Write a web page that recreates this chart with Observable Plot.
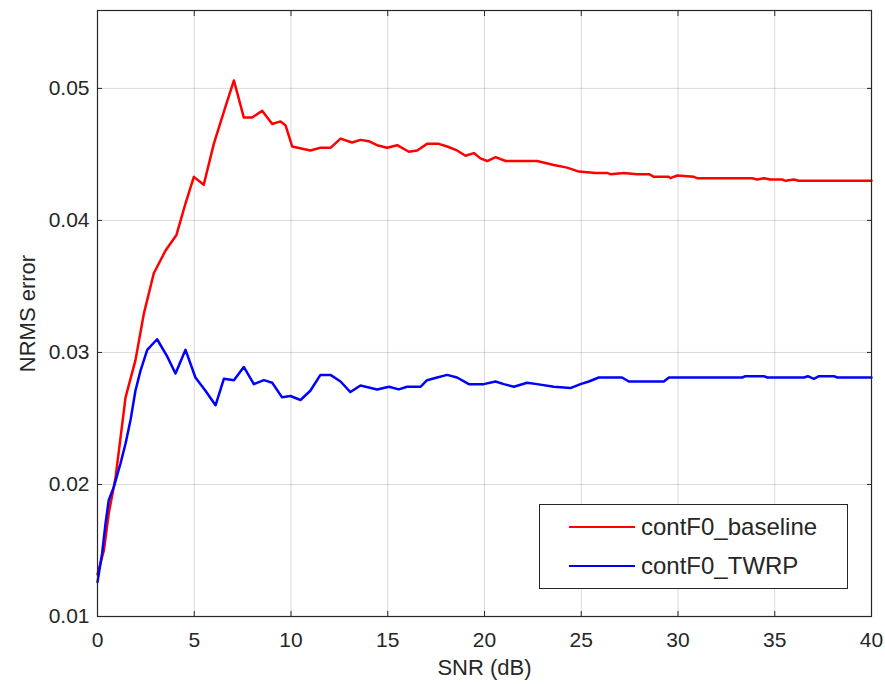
<!DOCTYPE html>
<html>
<head>
<meta charset="utf-8">
<script src="https://cdn.jsdelivr.net/npm/d3@7"></script>
<script src="https://cdn.jsdelivr.net/npm/@observablehq/plot@0.6"></script>
<style>
  html, body { margin: 0; padding: 0; background: #fff; }
  #wrap { position: relative; width: 885px; height: 684px; }
  #legend { position: absolute; left: 539px; top: 504px; width: 307px; height: 83px;
    border: 1px solid #262626; background: #fff; font-family: "Liberation Sans", Arial, sans-serif;
    font-size: 24px; color: #262626; }
  .row { position: absolute; left: 29px; display: flex; align-items: center; height: 28px; }
  .sw { width: 66px; height: 0; border-top: 2.5px solid; margin-right: 6px; }
</style>
</head>
<body>
<div id="wrap"></div>
<script>
const seriesNames = ["contF0_baseline", "contF0_TWRP"];
const seriesColors = ["#ff0000", "#0000ff"];

const baselineSNR = [0,0.33,0.58,0.93,1.45,1.96,2.39,2.91,3.51,4.08,4.55,4.98,5.49,6.01,6.61,7.05,7.56,7.99,8.51,9.03,9.46,9.72,10.06,11.0,11.52,12.04,12.56,13.16,13.59,14.02,14.45,14.97,15.49,16.09,16.52,17.03,17.64,18.07,18.58,19.02,19.45,19.79,20.14,20.57,21.09,22.72,23.58,24.27,24.88,25.74,26.34,26.51,27.2,27.89,28.5,28.76,29.53,29.61,29.96,30.82,30.99,33.83,34.09,34.44,34.78,35.38,35.56,35.98,36.24,40];
const baselineErr = [0.0132,0.0150,0.0178,0.0205,0.0266,0.0294,0.0329,0.0360,0.0377,0.0389,0.0413,0.0433,0.0427,0.0458,0.0486,0.0506,0.0478,0.0478,0.0483,0.0473,0.0475,0.0472,0.0456,0.0453,0.0455,0.0455,0.0462,0.0459,0.0461,0.0460,0.0457,0.0455,0.0457,0.0452,0.0453,0.0458,0.0458,0.0456,0.0453,0.0449,0.0451,0.0447,0.0445,0.0448,0.0445,0.0445,0.0442,0.0440,0.0437,0.0436,0.0436,0.0435,0.0436,0.0435,0.0435,0.0433,0.0433,0.0432,0.0434,0.0433,0.0432,0.0432,0.0431,0.0432,0.0431,0.0431,0.0430,0.0431,0.0430,0.0430];

const twrpSNR = [0,0.24,0.41,0.58,0.84,1.19,1.45,1.71,1.96,2.22,2.57,3.08,3.6,4.03,4.55,5.06,5.58,6.1,6.53,7.05,7.56,8.08,8.6,9.03,9.54,9.97,10.49,11.0,11.52,12.04,12.56,13.07,13.59,14.45,15.06,15.57,16.0,16.69,17.03,17.55,18.07,18.58,19.19,19.96,20.57,21.0,21.52,22.2,22.72,23.58,24.44,24.96,25.39,25.91,27.11,27.46,29.27,29.53,33.32,33.49,34.44,34.61,36.51,36.71,37.02,37.29,38.06,38.23,40];
const twrpErr = [0.0126,0.0148,0.0170,0.0188,0.0198,0.0216,0.0231,0.0249,0.0271,0.0286,0.0302,0.0310,0.0297,0.0284,0.0302,0.0281,0.0271,0.0260,0.0280,0.0279,0.0289,0.0276,0.0279,0.0277,0.0266,0.0267,0.0264,0.0271,0.0283,0.0283,0.0278,0.0270,0.0275,0.0272,0.0274,0.0272,0.0274,0.0274,0.0279,0.0281,0.0283,0.0281,0.0276,0.0276,0.0278,0.0276,0.0274,0.0277,0.0276,0.0274,0.0273,0.0276,0.0278,0.0281,0.0281,0.0278,0.0278,0.0281,0.0281,0.0282,0.0282,0.0281,0.0281,0.0282,0.0280,0.0282,0.0282,0.0281,0.0281];

const xTicks = [0,5,10,15,20,25,30,35,40];
const yTicks = [0.01,0.02,0.03,0.04,0.05];
const xLabel = "SNR (dB)";
const yLabel = "NRMS error";

const data = [
  ...baselineSNR.map((x, i) => ({snr: x, err: baselineErr[i], s: seriesNames[0]})),
  ...twrpSNR.map((x, i) => ({snr: x, err: twrpErr[i], s: seriesNames[1]}))
];

const axisColor = "#262626";
const tickFont = 21;
const labelFont = 22;

const chart = Plot.plot({
  width: 885,
  height: 684,
  marginLeft: 97,
  marginRight: 14,
  marginTop: 10,
  marginBottom: 68,
  style: {fontFamily: "'Liberation Sans', Arial, sans-serif", fontSize: tickFont + "px", color: axisColor, background: "#fff"},
  x: {domain: [0, 40]},
  y: {domain: [0.01, 0.0559]},
  color: {domain: seriesNames, range: seriesColors},
  marks: [
    Plot.gridX(xTicks, {stroke: "#000", strokeOpacity: 0.15, strokeWidth: 1}),
    Plot.gridY(yTicks, {stroke: "#000", strokeOpacity: 0.15, strokeWidth: 1}),
    Plot.line(data, {x: "snr", y: "err", z: "s", stroke: "s", strokeWidth: 2.5, strokeLinejoin: "round"}),
    Plot.frame({stroke: axisColor, strokeWidth: 1.2}),
    Plot.axisX({anchor: "bottom", ticks: xTicks, tickSize: 0, tickPadding: 16, label: null, tickFormat: d3.format("d"), fontSize: tickFont}),
    Plot.axisX({anchor: "bottom", ticks: xTicks, tickSize: 5, dy: -5, text: null, label: null, stroke: axisColor}),
    Plot.axisX({anchor: "top", ticks: xTicks, tickSize: 5, dy: 5, text: null, label: null, stroke: axisColor}),
    Plot.axisY({anchor: "left", ticks: yTicks, tickSize: 0, tickPadding: 8, label: null, tickFormat: d3.format(".2f"), fontSize: tickFont}),
    Plot.axisY({anchor: "left", ticks: yTicks, tickSize: 5, dx: 5, text: null, label: null, stroke: axisColor}),
    Plot.axisY({anchor: "right", ticks: yTicks, tickSize: 5, dx: -5, text: null, label: null, stroke: axisColor}),
    Plot.text([xLabel], {frameAnchor: "bottom", textAnchor: "middle", lineAnchor: "middle", dy: 51, fontSize: labelFont, fill: axisColor}),
    Plot.text([yLabel], {frameAnchor: "left", textAnchor: "middle", lineAnchor: "middle", rotate: -90, dx: -70, fontSize: labelFont, fill: axisColor})
  ]
});

const wrap = document.getElementById("wrap");
wrap.appendChild(chart);

const legend = document.createElement("div");
legend.id = "legend";
seriesNames.forEach((name, i) => {
  const row = document.createElement("div");
  row.className = "row";
  row.style.top = (i === 0 ? 8 : 47) + "px";
  const sw = document.createElement("div");
  sw.className = "sw";
  sw.style.borderTopColor = seriesColors[i];
  const t = document.createElement("span");
  t.textContent = name;
  row.appendChild(sw);
  row.appendChild(t);
  legend.appendChild(row);
});
wrap.appendChild(legend);
</script>
</body>
</html>
